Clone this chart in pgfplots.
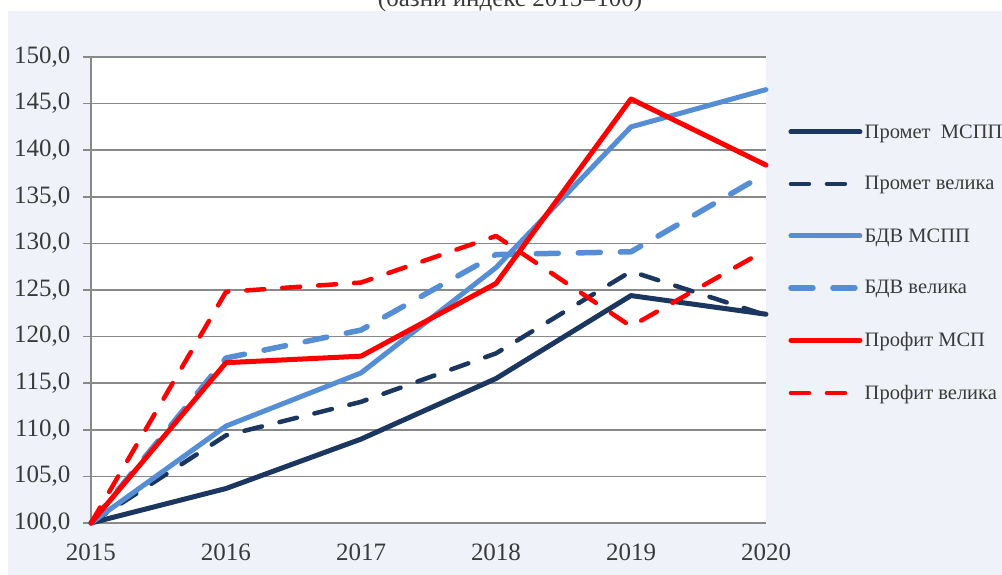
\documentclass[border=0pt]{standalone}
\usepackage{fontspec}
\setmainfont{Liberation Serif}
\usepackage{pgfplots}
\pgfplotsset{compat=1.18}
\definecolor{navy}{HTML}{1B365F}
\definecolor{lblue}{HTML}{558ED5}
\definecolor{bgc}{HTML}{EFF3F9}
\definecolor{gridc}{HTML}{898989}
\definecolor{txt}{HTML}{3A3A3A}
\begin{document}
\begin{tikzpicture}[x=1pt,y=1pt]
\useasboundingbox (0,0) rectangle (1002,575);
\fill[bgc] (8,0) rectangle (1002,564);
\node[anchor=base, font=\fontsize{25}{25}\selectfont, text=txt, inner sep=0pt] at (510,568) {(базни индекс 2015=100)};
\begin{axis}[
  at={(91pt,52pt)}, anchor=south west,
  width=675pt, height=466pt, scale only axis,
  xmin=2015, xmax=2020, ymin=100, ymax=150,
  clip=false,
  axis background/.style={fill=white},
  axis x line*=bottom, axis y line*=left,
  axis line style={draw=gridc, line width=1.5pt},
  xtick={2015,2016,2017,2018,2019,2020},
  ytick={100,105,...,150},
  ymajorgrids, grid style={draw=gridc, line width=1.5pt},
  xtick style={draw=none},
  ytick style={draw=gridc, line width=1.5pt},
  tick align=outside, major tick length=8pt,
  ticklabel style={font=\fontsize{25}{25}\selectfont, text=txt},
  xticklabel style={yshift=-9pt, /pgf/number format/1000 sep={}},
  yticklabel style={xshift=-9pt, /pgf/number format/.cd, fixed, fixed zerofill, precision=1, use comma},
  /pgf/number format/assume math mode=true,
  legend style={draw=none, fill=none, at={(1.0,0.86)}, anchor=north west,
    font=\fontsize{20.5}{20.5}\selectfont, text=txt, row sep=33pt, inner sep=0pt, xshift=22pt},
  legend cell align=left,
  legend image code/.code={\draw[#1] (0pt,0pt) -- (69pt,0pt);},
  every axis plot/.append style={line width=5pt, line join=round, line cap=round},
]
\addplot[navy] coordinates {(2015,100) (2016,103.7) (2017,109.0) (2018,115.5) (2019,124.4) (2020,122.4)};
\addlegendentry{Промет\ \ МСПП}
\addplot[navy, line width=4.5pt, dash pattern=on 18pt off 18pt] coordinates {(2015,100) (2016,109.4) (2017,113.0) (2018,118.2) (2019,127.0) (2020,122.3)};
\addlegendentry{Промет велика}
\addplot[lblue] coordinates {(2015,100) (2016,110.4) (2017,116.1) (2018,127.4) (2019,142.5) (2020,146.5)};
\addlegendentry{БДВ МСПП}
\addplot[lblue, line width=5.5pt, dash pattern=on 22pt off 20pt] coordinates {(2015,100) (2016,117.7) (2017,120.7) (2018,128.8) (2019,129.1) (2020,137.5)};
\addlegendentry{БДВ велика}
\addplot[red] coordinates {(2015,100) (2016,117.2) (2017,117.9) (2018,125.7) (2019,145.5) (2020,138.4)};
\addlegendentry{Профит МСП}
\addplot[red, line width=4.5pt, dash pattern=on 18pt off 18pt] coordinates {(2015,100) (2016,124.8) (2017,125.8) (2018,130.8) (2019,121.1) (2020,129.3)};
\addlegendentry{Профит велика}
\end{axis}
\end{tikzpicture}
\end{document}
